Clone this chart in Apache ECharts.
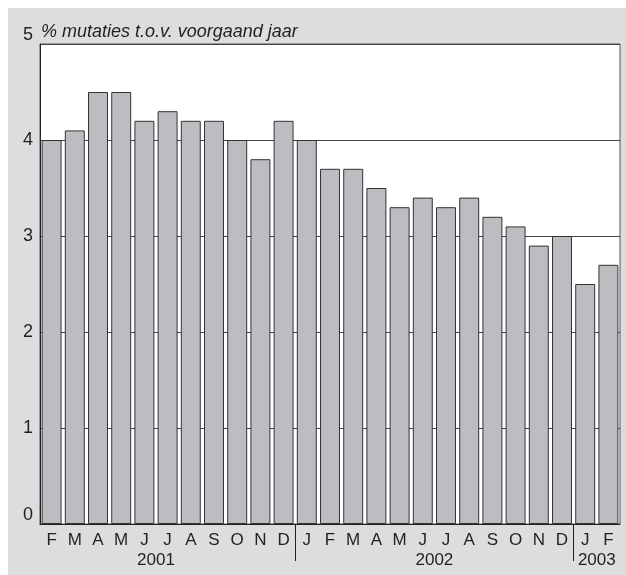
<!DOCTYPE html>
<html>
<head>
<meta charset="utf-8">
<script src="https://cdn.jsdelivr.net/npm/echarts@6/dist/echarts.min.js"></script>
<style>
  html, body { margin: 0; padding: 0; background: #fff; }
  #chart { position: absolute; left: 8px; top: 8px; width: 618px; height: 567px; }
</style>
</head>
<body>
<div id="chart"></div>
<script>
// maanden feb 2001 t/m feb 2003
var months = ['F', 'M', 'A', 'M', 'J', 'J', 'A', 'S', 'O', 'N', 'D',
              'J', 'F', 'M', 'A', 'M', 'J', 'J', 'A', 'S', 'O', 'N', 'D',
              'J', 'F'];
var values = [4.0, 4.1, 4.5, 4.5, 4.2, 4.3, 4.2, 4.2, 4.0, 3.8, 4.2,
              4.0, 3.7, 3.7, 3.5, 3.3, 3.4, 3.3, 3.4, 3.2, 3.1, 2.9, 3.0,
              2.5, 2.7];
var years = ['2001', '2002', '2003'];
var monthsPerYear = [11, 12, 2];
var yTicks = [0, 1, 2, 3, 4, 5];

// jaargrenzen en midden van elk jaar (in categorie-eenheden)
var yearBounds = [];
var yearCenters = [];
var start = 0;
for (var i = 0; i < years.length; i++) {
    var end = start + monthsPerYear[i];
    if (i === 0) {
        yearCenters.push(end - 6); // eerste jaar begint in februari
    } else {
        yearCenters.push(start + monthsPerYear[i] / 2);
    }
    if (i < years.length - 1) yearBounds.push(end);
    start = end;
}

var chart = echarts.init(document.getElementById('chart'));
var txt = '#231f20';
var option = {
    animation: false,
    backgroundColor: '#dcdddf',
    textStyle: { fontFamily: 'Liberation Sans, Arial, sans-serif' },
    title: {
        text: '% mutaties t.o.v. voorgaand jaar',
        left: 28,
        top: 10,
        textStyle: {
            fontSize: 18,
            fontStyle: 'italic',
            fontWeight: 'normal',
            color: txt,
            fontFamily: 'Liberation Sans, Arial, sans-serif'
        }
    },
    grid: {
        left: 32,
        right: 6,
        top: 36,
        bottom: 51,
        show: true,
        backgroundColor: '#ffffff',
        borderColor: '#555',
        borderWidth: 1
    },
    xAxis: [
        {
            type: 'category',
            data: months,
            axisTick: { show: false },
            axisLine: { lineStyle: { color: '#222', width: 1 } },
            axisLabel: { interval: 0, fontSize: 17, color: txt, margin: 8 }
        },
        {
            type: 'value',
            min: 0,
            max: months.length,
            position: 'bottom',
            axisLine: { show: false },
            splitLine: { show: false },
            axisTick: {
                show: true,
                customValues: yearBounds,
                length: 37,
                lineStyle: { color: '#222', width: 1 }
            },
            axisLabel: {
                show: true,
                customValues: yearCenters,
                fontSize: 17,
                color: txt,
                margin: 28,
                formatter: function (v) {
                    var k = yearCenters.indexOf(v);
                    return k >= 0 ? years[k] : '';
                }
            }
        }
    ],
    yAxis: {
        type: 'value',
        min: yTicks[0],
        max: yTicks[yTicks.length - 1],
        interval: 1,
        axisLine: { show: true, lineStyle: { color: '#222', width: 1 } },
        axisTick: { show: false },
        splitLine: { show: true, lineStyle: { color: '#444', width: 1 } },
        axisLabel: {
            fontSize: 18,
            color: txt,
            margin: 7,
            verticalAlignMinLabel: 'bottom',
            verticalAlignMaxLabel: 'bottom'
        }
    },
    series: [
        {
            type: 'bar',
            xAxisIndex: 0,
            data: values,
            barCategoryGap: '14%',
            itemStyle: {
                color: '#bcbdc1',
                borderColor: '#333',
                borderWidth: 1
            }
        }
    ]
};
chart.setOption(option);
</script>
</body>
</html>
